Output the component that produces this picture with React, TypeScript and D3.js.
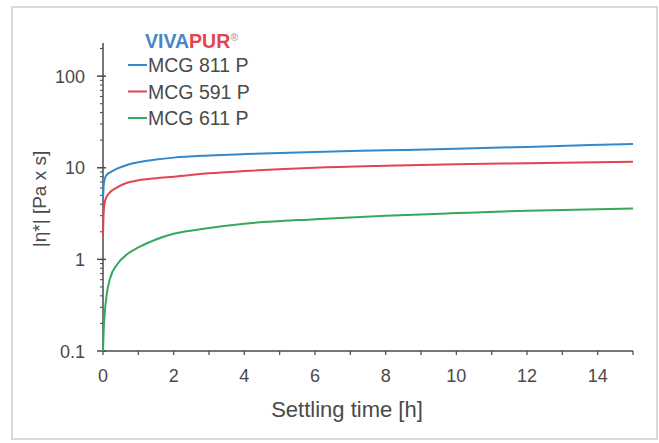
import React, { useEffect, useRef } from 'react';
import * as d3 from 'd3';

// settling time [h]
const times = [0, 0.02, 0.05, 0.1, 0.2, 0.4, 0.7, 1, 1.5, 2, 3, 4, 6, 8, 10, 12, 15];
// |eta*| [Pa x s]
const mcg811 = [4.5, 6.5, 7.6, 8.3, 8.9, 9.8, 10.8, 11.5, 12.3, 12.9, 13.6, 14.1, 14.9, 15.5, 16.1, 16.9, 18.2];
const mcg591 = [1.8, 3.3, 4.2, 4.8, 5.4, 6.1, 6.9, 7.3, 7.7, 8.0, 8.7, 9.2, 10.0, 10.5, 10.9, 11.2, 11.6];
const mcg611 = [0.1, 0.17, 0.26, 0.4, 0.62, 0.88, 1.15, 1.35, 1.65, 1.9, 2.2, 2.45, 2.75, 3.0, 3.2, 3.4, 3.6];

const seriesNames = ['MCG 811 P', 'MCG 591 P', 'MCG 611 P'];
const seriesColors = ['#3489cb', '#e2454f', '#38a85a'];
const xTicks = [0, 2, 4, 6, 8, 10, 12, 14];
const yTicks = [0.1, 1, 10, 100];

const App = () => {
  const ref = useRef<SVGSVGElement>(null);

  useEffect(() => {
    const svg = d3.select(ref.current);
    svg.selectAll('*').remove();

    const font = 'Liberation Sans, Arial, sans-serif';
    const ink = '#4a4a4a';

    // frame
    svg.append('rect')
      .attr('x', 12).attr('y', 7).attr('width', 645).attr('height', 432)
      .attr('fill', '#fff').attr('stroke', '#d9d9d9').attr('stroke-width', 2);

    const x = d3.scaleLinear().domain([0, 15]).range([103, 633]);
    const y = d3.scaleLog().domain([0.1, 230]).range([351, 43]);

    const g = svg.append('g').attr('font-family', font);

    // y axis
    g.append('line')
      .attr('x1', x(0)).attr('x2', x(0)).attr('y1', y(230)).attr('y2', y(0.1))
      .attr('stroke', ink).attr('stroke-width', 1.5);

    const minors: number[] = [];
    [0.1, 1, 10, 100].forEach(d => {
      for (let k = 2; k <= 9; k++) if (d * k <= 230) minors.push(d * k);
    });
    g.append('g').selectAll('line').data(minors).enter().append('line')
      .attr('x1', x(0) - 3).attr('x2', x(0))
      .attr('y1', d => y(d)).attr('y2', d => y(d))
      .attr('stroke', ink).attr('stroke-width', 1);
    g.append('g').selectAll('line').data(yTicks).enter().append('line')
      .attr('x1', x(0) - 6).attr('x2', x(0) + 3)
      .attr('y1', d => y(d)).attr('y2', d => y(d))
      .attr('stroke', ink).attr('stroke-width', 1.5);
    g.append('g').selectAll('text').data(yTicks).enter().append('text')
      .attr('x', 85).attr('y', d => y(d) + 6.5)
      .attr('text-anchor', 'end').attr('font-size', 18).attr('fill', ink)
      .text(d => String(d));

    // x axis
    g.append('line')
      .attr('x1', x(0)).attr('x2', x(15)).attr('y1', y(0.1)).attr('y2', y(0.1))
      .attr('stroke', ink).attr('stroke-width', 1.5);
    g.append('g').selectAll('line').data(d3.range(0, 16)).enter().append('line')
      .attr('x1', d => x(d)).attr('x2', d => x(d))
      .attr('y1', y(0.1)).attr('y2', y(0.1) + 4)
      .attr('stroke', ink).attr('stroke-width', 1.2);
    g.append('g').selectAll('text').data(xTicks).enter().append('text')
      .attr('x', d => x(d)).attr('y', 382)
      .attr('text-anchor', 'middle').attr('font-size', 18).attr('fill', ink)
      .text(d => String(d));

    // axis titles
    g.append('text')
      .attr('x', 347).attr('y', 417)
      .attr('text-anchor', 'middle').attr('font-size', 22).attr('fill', ink)
      .text('Settling time [h]');
    g.append('text')
      .attr('transform', 'translate(46,199) rotate(-90)')
      .attr('text-anchor', 'middle').attr('font-size', 19).attr('fill', ink)
      .text('|η*| [Pa x s]');

    // curves
    const line = d3.line<number>()
      .x((_, i) => x(times[i]))
      .y(d => y(d))
      .curve(d3.curveMonotoneX);
    [mcg811, mcg591, mcg611].forEach((vals, i) => {
      g.append('path')
        .attr('d', line(vals))
        .attr('fill', 'none').attr('stroke', seriesColors[i]).attr('stroke-width', 2);
    });

    // legend
    const brand = g.append('text')
      .attr('x', 145).attr('y', 48)
      .attr('font-size', 19.5).attr('font-weight', 'bold');
    brand.append('tspan').attr('fill', '#4a84c4').text('VIVA');
    brand.append('tspan').attr('fill', '#e2454f').text('PUR');
    brand.append('tspan').attr('fill', '#c9a0a8').attr('font-size', 11).attr('dy', -7).text('®');

    seriesNames.forEach((name, i) => {
      const ly = 65 + i * 26.5;
      g.append('line')
        .attr('x1', 128).attr('x2', 147).attr('y1', ly).attr('y2', ly)
        .attr('stroke', seriesColors[i]).attr('stroke-width', 2);
      g.append('text')
        .attr('x', 148).attr('y', ly + 7)
        .attr('font-size', 19.5).attr('fill', ink)
        .text(name);
    });
  }, []);

  return (
    <svg ref={ref} width={659} height={443}
      style={{ position: 'absolute', left: 0, top: 0, background: '#fff' }} />
  );
};

export default App;
